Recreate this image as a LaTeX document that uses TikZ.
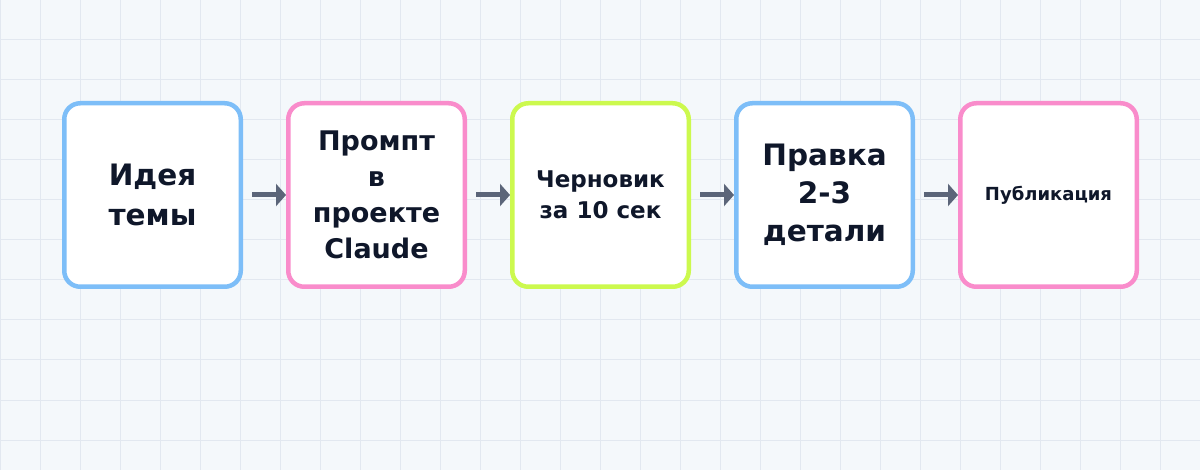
\documentclass[tikz,border=0pt]{standalone}
\usepackage{fontspec}
\setmainfont{DejaVu Sans}
\usetikzlibrary{arrows.meta,backgrounds}

\definecolor{paper}{HTML}{F4F8FB}
\definecolor{gridc}{HTML}{E2E8F0}
\definecolor{skyb}{HTML}{7DBEF8}
\definecolor{pinkb}{HTML}{F98CCB}
\definecolor{limeb}{HTML}{CCF94E}
\definecolor{slate}{HTML}{5B6579}
\definecolor{ink}{HTML}{0F172A}

\tikzset{
  gridline/.style={gridc, line width=1pt},
  stagebox/.style={draw, line width=4.5pt, fill=white, rounded corners=16pt,
    minimum width=176.5pt, minimum height=183.5pt, align=center, text=ink},
  flowarrow/.style={slate, line width=5pt, -{Triangle[length=10pt,width=22pt]},
    shorten <=9pt},
}

\begin{document}
\begin{tikzpicture}[x=1pt,y=-1pt]
    \useasboundingbox (0,0) rectangle (1200,470);
    % background grid
    \begin{pgfonlayer}{background}
        \fill[paper] (0,0) rectangle (1200,470);
        \foreach \gx in {0,40,...,1200}
            \draw[gridline] (\gx,0) -- (\gx,470);
        \foreach \gy in {0,40,...,440}
            \draw[gridline] (0,\gy) -- (1200,\gy);
    \end{pgfonlayer}

    % stages
    \node[stagebox, draw=skyb, font=\fontsize{29.5}{40}\selectfont\bfseries]
        (idea) at (152.5,195) {Идея\\темы};
    \node[stagebox, draw=pinkb, font=\fontsize{27}{36}\selectfont\bfseries]
        (prompt) at (376.5,195) {Промпт\\в\\проекте\\Claude};
    \node[stagebox, draw=limeb, font=\fontsize{23}{31}\selectfont\bfseries]
        (draft) at (600.5,195) {Черновик\\за 10 сек};
    \node[stagebox, draw=skyb, font=\fontsize{29.5}{38}\selectfont\bfseries]
        (edit) at (824.5,195) {Правка\\2-3\\детали};
    \node[stagebox, draw=pinkb, font=\fontsize{18}{22}\selectfont\bfseries]
        (publish) at (1048.5,195) {Публикация};

    % arrows
    \begin{pgfonlayer}{background}
        \draw[flowarrow] (idea) -- (prompt);
        \draw[flowarrow] (prompt) -- (draft);
        \draw[flowarrow] (draft) -- (edit);
        \draw[flowarrow] (edit) -- (publish);
    \end{pgfonlayer}
\end{tikzpicture}
\end{document}
